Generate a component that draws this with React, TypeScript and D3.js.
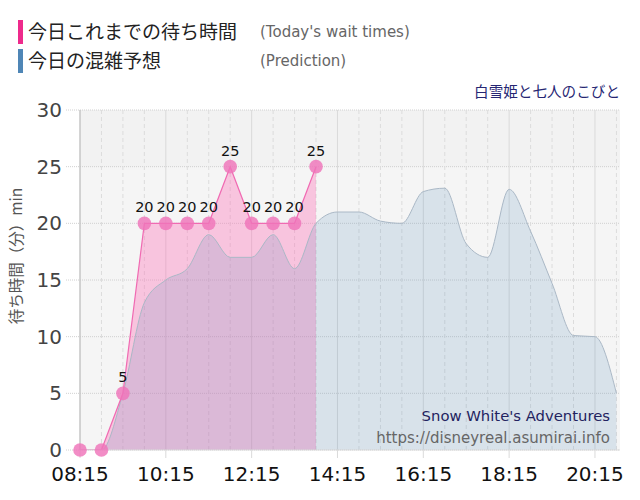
import React from 'react';
import * as d3 from 'd3';

// 30分ごとの時刻
const actualTimes = ['08:15', '08:45', '09:15', '09:45', '10:15', '10:45', '11:15', '11:45', '12:15', '12:45', '13:15', '13:45'];
const actualWait = [0, 0, 5, 20, 20, 20, 20, 25, 20, 20, 20, 25];

const predTimes = [
  '08:15', '08:45', '09:15', '09:45', '10:15', '10:45', '11:15', '11:45', '12:15', '12:45', '13:15', '13:45',
  '14:15', '14:45', '15:15', '15:45', '16:15', '16:45', '17:15', '17:45', '18:15', '18:45', '19:15', '19:45',
  '20:15', '20:45',
];
const predWait = [0, 0, 5, 13, 15, 16, 19, 17, 17, 19, 16, 20, 21, 21, 20.2, 20, 22.8, 23.1, 18.2, 17, 23, 19.3, 14.7, 10.1, 10, 5];

const xTickLabels = ['08:15', '10:15', '12:15', '14:15', '16:15', '18:15', '20:15'];
const yTicks = [0, 5, 10, 15, 20, 25, 30];
const xStart = '08:15';
const xEnd = '20:50';

const toMin = (t: string) => {
  const [h, m] = t.split(':').map(Number);
  return h * 60 + m;
};

const W = 640;
const H = 500;
const left = 80;
const right = 620;
const top = 110;
const bottom = 450;

const latin = '"DejaVu Sans", Verdana, sans-serif';
const jp = '"Noto Sans CJK JP", sans-serif';

const App: React.FC = () => {
  const x = d3.scaleLinear().domain([toMin(xStart), toMin(xEnd)]).range([left, right]);
  const y = d3.scaleLinear().domain([0, 30]).range([bottom, top]);

  const actual = actualTimes.map((t, i) => ({ t: toMin(t), v: actualWait[i] }));
  const pred = predTimes.map((t, i) => ({ t: toMin(t), v: predWait[i] }));

  const actualArea = d3.area<{ t: number; v: number }>()
    .x(d => x(d.t)).y0(y(0)).y1(d => y(d.v));
  const actualLine = d3.line<{ t: number; v: number }>()
    .x(d => x(d.t)).y(d => y(d.v));
  const predArea = d3.area<{ t: number; v: number }>()
    .curve(d3.curveMonotoneX)
    .x(d => x(d.t)).y0(y(0)).y1(d => y(d.v));
  const predLine = d3.line<{ t: number; v: number }>()
    .curve(d3.curveMonotoneX)
    .x(d => x(d.t)).y(d => y(d.v));

  // 縦グリッド（30分ごと）
  const gridTimes = d3.range(toMin(xStart), toMin(xEnd), 30);
  const majorSet = new Set(xTickLabels.map(toMin));

  return (
    <svg width={W} height={H} style={{ position: 'absolute', left: 0, top: 0 }}>
      <defs>
        <clipPath id="plot">
          <rect x={left} y={top} width={right - left} height={bottom - top} />
        </clipPath>
      </defs>

      {/* 凡例 */}
      <rect x={18} y={20} width={5} height={24} fill="#ee2a8c" />
      <text x={28} y={39} fontFamily={jp} fontSize={19} fill="#222">今日これまでの待ち時間</text>
      <text x={260} y={37} fontFamily={latin} fontSize={15} fill="#666">(Today's wait times)</text>
      <rect x={18} y={49} width={5} height={24} fill="#4f86b6" />
      <text x={28} y={68} fontFamily={jp} fontSize={19} fill="#222">今日の混雑予想</text>
      <text x={260} y={66} fontFamily={latin} fontSize={15} fill="#666">(Prediction)</text>
      <text x={620} y={97} textAnchor="end" fontFamily={jp} fontSize={14.6} fill="#262673">白雪姫と七人のこびと</text>

      {/* 背景 */}
      <rect x={left} y={top} width={right - left} height={bottom - top} fill="#f5f5f5" />
      <rect x={left} y={y(30)} width={right - left} height={y(25) - y(30)} fill="#f2f2f2" />

      {/* 横グリッド */}
      {yTicks.map(v => (
        <g key={v}>
          <line x1={66} x2={right} y1={y(v)} y2={y(v)} stroke="#d0d0d0" strokeDasharray="1,1" />
          <text x={62} y={y(v) + 7} textAnchor="end" fontFamily={latin} fontSize={20} fill="#444">{v}</text>
        </g>
      ))}

      {/* 縦グリッド */}
      {gridTimes.map(t => (
        majorSet.has(t)
          ? <line key={t} x1={x(t)} x2={x(t)} y1={top} y2={bottom + 8} stroke="#dadada" />
          : <line key={t} x1={x(t)} x2={x(t)} y1={top} y2={bottom} stroke="#dcdcdc" strokeDasharray="4,3" />
      ))}

      <g clipPath="url(#plot)">
        <path d={actualArea(actual) || ''} fill="hotpink" fillOpacity={0.35} />
        <path d={predArea(pred) || ''} fill="steelblue" fillOpacity={0.16} />
        <path d={predLine(pred) || ''} fill="none" stroke="#aab8c6" strokeWidth={1} />
        <path d={actualLine(actual) || ''} fill="none" stroke="#f06ab2" strokeWidth={1.2} />
      </g>

      {/* 軸線 */}
      <line x1={left} x2={left} y1={top} y2={bottom} stroke="#bbb" />
      <line x1={left} x2={right} y1={bottom} y2={bottom} stroke="#ddd" />

      {/* マーカーとラベル */}
      {actual.map((d, i) => (
        <g key={i}>
          <circle cx={x(d.t)} cy={y(d.v)} r={6.8} fill="#ef74b9" fillOpacity={0.82} />
          {d.v > 0 && (
            <text x={x(d.t)} y={y(d.v) - 11} textAnchor="middle" fontFamily={latin} fontSize={14.5} fill="#111">{d.v}</text>
          )}
        </g>
      ))}

      {/* X軸ラベル */}
      {xTickLabels.map(t => (
        <text key={t} x={x(toMin(t))} y={481} textAnchor="middle" fontFamily={latin} fontSize={20} fill="#111">{t}</text>
      ))}

      {/* Y軸タイトル */}
      <text transform="translate(22,256) rotate(-90)" textAnchor="middle" fontFamily={jp} fontSize={15.5} fill="#555">待ち時間（分）min</text>

      {/* 透かし */}
      <text x={610} y={421} textAnchor="end" fontFamily={latin} fontSize={14.8} fill="#23235f">Snow White's Adventures</text>
      <text x={610} y={443} textAnchor="end" fontFamily={latin} fontSize={15} fill="#666">https://disneyreal.asumirai.info</text>
    </svg>
  );
};

export default App;
